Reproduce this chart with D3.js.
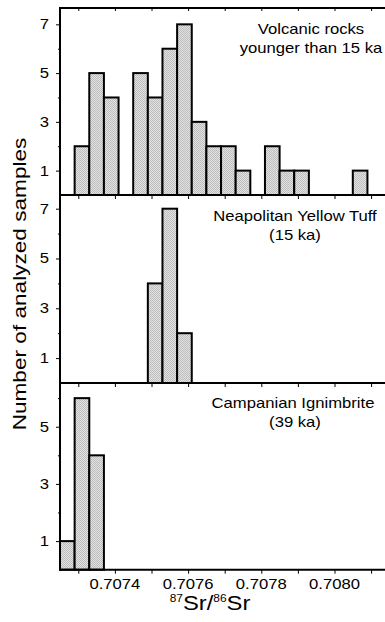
<!DOCTYPE html>
<html><head><meta charset="utf-8">
<script src="https://cdn.jsdelivr.net/npm/d3@7"></script>
<style>html,body{margin:0;padding:0;background:#fff;}svg{display:block;}</style>
</head><body>
<script>
// ---- data ----
const binWidth = 0.00004;
const youngBins   = [0.70729,0.70733,0.70737,0.70745,0.70749,0.70753,0.70757,0.70761,0.70765,0.70769,0.70773,0.70781,0.70785,0.70789,0.70805];
const youngCounts = [2,5,4,5,4,6,7,3,2,2,1,2,1,1,1];
const nytBins   = [0.70749,0.70753,0.70757];
const nytCounts = [4,7,2];
const ciBins   = [0.70725,0.70729,0.70733];
const ciCounts = [1,6,4];
const panelLabels = [
  ["Volcanic rocks","younger than 15 ka"],
  ["Neapolitan Yellow Tuff","(15 ka)"],
  ["Campanian Ignimbrite","(39 ka)"]
];
const yTickLabels = [[1,3,5,7],[1,3,5,7],[1,3,5]];
const yMinorTicks = [[2,4,6],[2,4,6],[2,4,6]];
const yMax = [7.67, 7.55, 6.54];
const xTickValues = [0.7074,0.7076,0.7078,0.7080];
const xTickLabels = ["0.7074","0.7076","0.7078","0.7080"];
const xAllTicks = [0.7073,0.7074,0.7075,0.7076,0.7077,0.7078,0.7079,0.7080,0.7081];
const yTitle = "Number of analyzed samples";

// ---- layout ----
const W = 385, H = 622;
const left = 60, rightEnd = 389.4;
const panelTops = [8, 195, 382.7];
const panelBottoms = [195, 383, 569.7];
const stretch = 1.19;
const font = "'Liberation Sans', Arial, Helvetica, sans-serif";

const svg = d3.select("body").append("svg").attr("width", W).attr("height", H);
const defs = svg.append("defs");
const pat = defs.append("pattern").attr("id","dots").attr("patternUnits","userSpaceOnUse")
  .attr("width",2).attr("height",2);
pat.append("rect").attr("width",2).attr("height",2).attr("fill","#e2e2e2");
pat.append("rect").attr("width",1).attr("height",1).attr("fill","#bdbdbd");
pat.append("rect").attr("x",1).attr("y",1).attr("width",1).attr("height",1).attr("fill","#bdbdbd");

const x = d3.scaleLinear().domain([0.70725, 0.70815]).range([left, rightEnd]);

function stext(g, tx, ty, txt, size, anchor, rot) {
  const t = g.append("text")
    .attr("transform", `translate(${tx},${ty})` + (rot ? ` rotate(${rot})` : "") + ` scale(${stretch},1)`)
    .attr("text-anchor", anchor).attr("font-family", font).attr("font-size", size).attr("fill","#000")
    .text(txt);
  return t;
}

const datasets = [[youngBins,youngCounts],[nytBins,nytCounts],[ciBins,ciCounts]];

datasets.forEach(([bins, counts], i) => {
  const top = panelTops[i], bot = panelBottoms[i];
  const y = d3.scaleLinear().domain([0, yMax[i]]).range([bot, top]);
  const g = svg.append("g");
  const data = bins.map((b, j) => ({lo: b, hi: b + binWidth, n: counts[j]}));
  g.selectAll("rect.bar").data(data).enter().append("rect")
    .attr("class","bar")
    .attr("x", d => x(d.lo)).attr("width", d => x(d.hi) - x(d.lo))
    .attr("y", d => y(d.n)).attr("height", d => y(0) - y(d.n))
    .attr("fill","url(#dots)").attr("stroke","#000").attr("stroke-width",2);

  // y axis
  const ya = d3.axisLeft(y).tickValues(yTickLabels[i]).tickSize(4).tickPadding(8).tickFormat(d3.format("d"));
  const yg = g.append("g").attr("transform",`translate(${left},0)`).call(ya);
  yg.select(".domain").remove();
  yg.selectAll(".tick line").attr("stroke","#000").attr("stroke-width",1);
  yg.selectAll(".tick text").remove();
  yTickLabels[i].forEach(v => {
    stext(g, left - 11, y(v) + 5, String(v), 14, "end");
  });
  const ym = d3.axisLeft(y).tickValues(yMinorTicks[i]).tickSize(2).tickFormat("");
  const ymg = g.append("g").attr("transform",`translate(${left},0)`).call(ym);
  ymg.select(".domain").remove();
  ymg.selectAll(".tick line").attr("stroke","#000").attr("stroke-width",1);

  // bottom ticks (outward/down)
  const xa = d3.axisBottom(x).tickValues(xAllTicks).tickSize(4).tickFormat("");
  const xg = g.append("g").attr("transform",`translate(0,${bot})`).call(xa);
  xg.select(".domain").remove();
  xg.selectAll(".tick line").attr("stroke","#000").attr("stroke-width",1);

  // bottom line
  g.append("line").attr("x1", left).attr("x2", W).attr("y1", bot).attr("y2", bot)
    .attr("stroke","#000").attr("stroke-width",2);

  // panel label
  const cx = [311, 295, 293][i];
  stext(g, cx, top + 25.5, panelLabels[i][0], 14, "middle");
  stext(g, [311, 295, 295][i], top + 44.5, panelLabels[i][1], 14, "middle");
});

// top frame line with inward ticks
const topAxis = d3.axisBottom(x).tickValues(xAllTicks).tickSize(3).tickFormat("");
const tg = svg.append("g").attr("transform",`translate(0,${panelTops[0]})`).call(topAxis);
tg.select(".domain").remove();
tg.selectAll(".tick line").attr("stroke","#000").attr("stroke-width",1);
svg.append("line").attr("x1", left).attr("x2", W).attr("y1", panelTops[0]).attr("y2", panelTops[0])
  .attr("stroke","#000").attr("stroke-width",2);

// left axis line
svg.append("line").attr("x1", left).attr("x2", left).attr("y1", panelTops[0]-1).attr("y2", panelBottoms[2]+1)
  .attr("stroke","#000").attr("stroke-width",2);

// x tick labels
xTickValues.forEach((v, k) => {
  stext(svg, x(v), 588.5, xTickLabels[k], 14, "middle");
});

// x title
const xt = svg.append("text")
  .attr("transform", `translate(210,609.5) scale(${stretch},1)`)
  .attr("text-anchor","middle").attr("font-family", font).attr("font-size", 20).attr("fill","#000");
xt.append("tspan").attr("font-size",10).attr("dy",-8).text("87");
xt.append("tspan").attr("font-size",20).attr("dy",8).text("Sr/");
xt.append("tspan").attr("font-size",10).attr("dy",-8).text("86");
xt.append("tspan").attr("font-size",20).attr("dy",8).text("Sr");

// y title
stext(svg, 25.5, 284, yTitle, 19, "middle", -90);
</script>
</body></html>
